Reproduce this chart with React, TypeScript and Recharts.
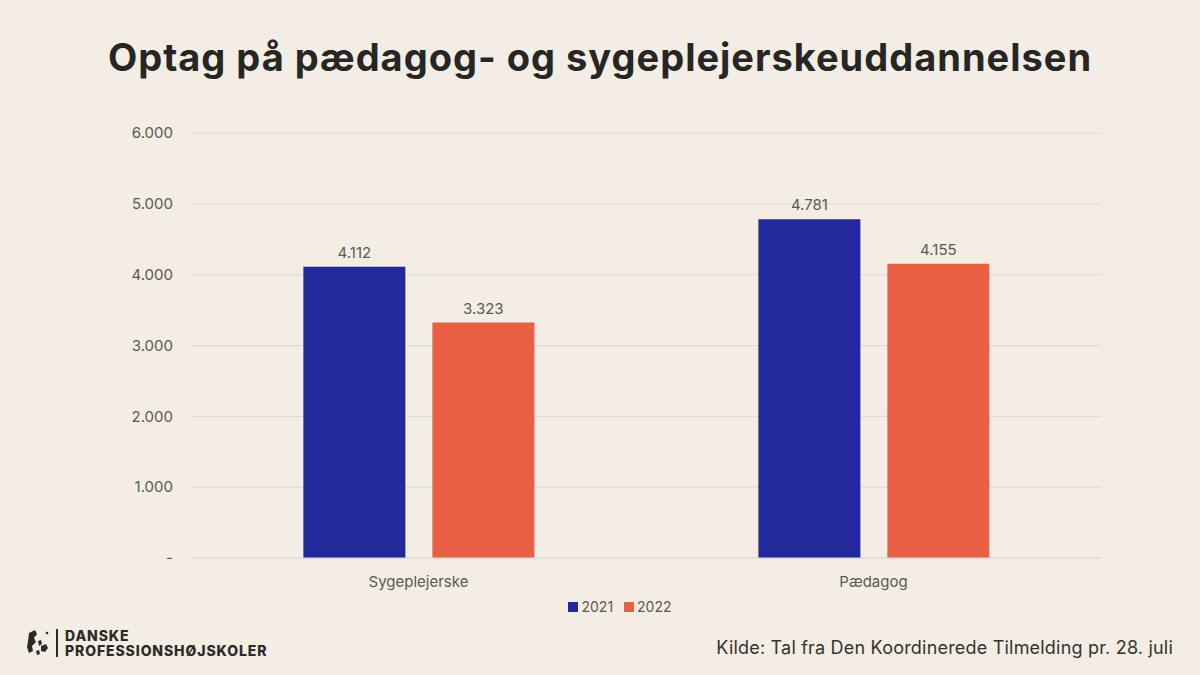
import React from "react";
import { BarChart, Bar, XAxis, YAxis, CartesianGrid, LabelList } from "recharts";

// Data
const categories = ["Sygeplejerske", "Pædagog"];
const values2021 = [4112, 4781];
const values2022 = [3323, 4155];
const yTicks = [0, 1000, 2000, 3000, 4000, 5000, 6000];

const colors = {
  y2021: "#22299C",
  y2022: "#E85F44",
  bg: "#F3EDE3",
  text: "#595959",
  grid: "#DEDAD3",
};

const FONT = "Inter, 'Open Sans', sans-serif";

// Danish style thousands separator, zero shown as dash
const fmt = (v: number) =>
  v === 0 ? "-" : String(v).replace(/\B(?=(\d{3})+(?!\d))/g, ".");

const data = categories.map((name, i) => ({
  name,
  y2021: values2021[i],
  y2022: values2022[i],
}));

const Logo = () => (
  <div style={{ position: "absolute", left: 26, top: 628, display: "flex", alignItems: "center" }}>
    <svg width="24" height="28" viewBox="0 0 24 28">
      <path d="M3 4 L9 1 L11 5 L8 9 L10 13 L6 17 L7 22 L3 24 L1 18 L2 12 Z" fill="#2b2b2b" />
      <path d="M12 12 L15 11 L16 15 L13 17 Z" fill="#2b2b2b" />
      <path d="M15 17 L20 15 L22 19 L19 23 L15 22 Z" fill="#2b2b2b" />
      <path d="M10 22 L13 21 L14 25 L11 26 Z" fill="#2b2b2b" />
      <circle cx="21" cy="4" r="1.3" fill="#2b2b2b" />
    </svg>
    <div style={{ width: 2, height: 28, background: "#2b2b2b", marginLeft: 6, marginRight: 7 }} />
    <div style={{ fontFamily: FONT, fontWeight: 800, fontSize: 14, lineHeight: "15px", color: "#2b2b2b", letterSpacing: 0.9 }}>
      DANSKE
      <br />
      PROFESSIONSHØJSKOLER
    </div>
  </div>
);

const App: React.FC = () => {
  return (
    <div
      style={{
        position: "absolute",
        left: 0,
        top: 0,
        width: 1200,
        height: 675,
        background: colors.bg,
        overflow: "hidden",
        fontFamily: FONT,
      }}
    >
      <div
        style={{
          position: "absolute",
          top: 34,
          width: 1200,
          textAlign: "center",
          fontSize: 38,
          fontWeight: 700,
          letterSpacing: 1,
          color: "#262626",
        }}
      >
        Optag på pædagog- og sygeplejerskeuddannelsen
      </div>

      <div style={{ position: "absolute", left: 0, top: 0 }}>
        <BarChart
          width={1200}
          height={675}
          data={data}
          margin={{ top: 133, right: 99, bottom: 87, left: 131 }}
          barCategoryGap="24.7%"
          barGap={27}
        >
          <CartesianGrid vertical={false} stroke={colors.grid} />
          <XAxis
            dataKey="name"
            axisLine={{ stroke: colors.grid }}
            tickLine={false}
            height={30}
            tickMargin={12}
            tick={{ fill: colors.text, fontSize: 15, fontFamily: FONT }}
          />
          <YAxis
            width={60}
            domain={[0, 6000]}
            ticks={yTicks}
            tickFormatter={fmt}
            axisLine={false}
            tickLine={false}
            tickMargin={12}
            tick={{ fill: colors.text, fontSize: 15, fontFamily: FONT }}
          />
          <Bar dataKey="y2021" fill={colors.y2021} isAnimationActive={false}>
            <LabelList
              dataKey="y2021"
              position="top"
              offset={9}
              formatter={(v: any) => fmt(Number(v))}
              style={{ fill: colors.text, fontSize: 15, fontFamily: FONT }}
            />
          </Bar>
          <Bar dataKey="y2022" fill={colors.y2022} isAnimationActive={false}>
            <LabelList
              dataKey="y2022"
              position="top"
              offset={9}
              formatter={(v: any) => fmt(Number(v))}
              style={{ fill: colors.text, fontSize: 15, fontFamily: FONT }}
            />
          </Bar>
        </BarChart>
      </div>

      {/* Legend */}
      <div
        style={{
          position: "absolute",
          top: 598,
          left: 0,
          width: 1240,
          display: "flex",
          justifyContent: "center",
          alignItems: "center",
          fontSize: 14,
          color: colors.text,
        }}
      >
        <span style={{ display: "inline-block", width: 10, height: 10, background: colors.y2021, marginRight: 3 }} />
        <span style={{ marginRight: 11 }}>2021</span>
        <span style={{ display: "inline-block", width: 10, height: 10, background: colors.y2022, marginRight: 3 }} />
        <span>2022</span>
      </div>

      <Logo />

      <div
        style={{
          position: "absolute",
          right: 27,
          top: 637,
          fontSize: 18,
          letterSpacing: 0.2,
          color: "#333333",
        }}
      >
        Kilde: Tal fra Den Koordinerede Tilmelding pr. 28. juli
      </div>
    </div>
  );
};

export default App;
